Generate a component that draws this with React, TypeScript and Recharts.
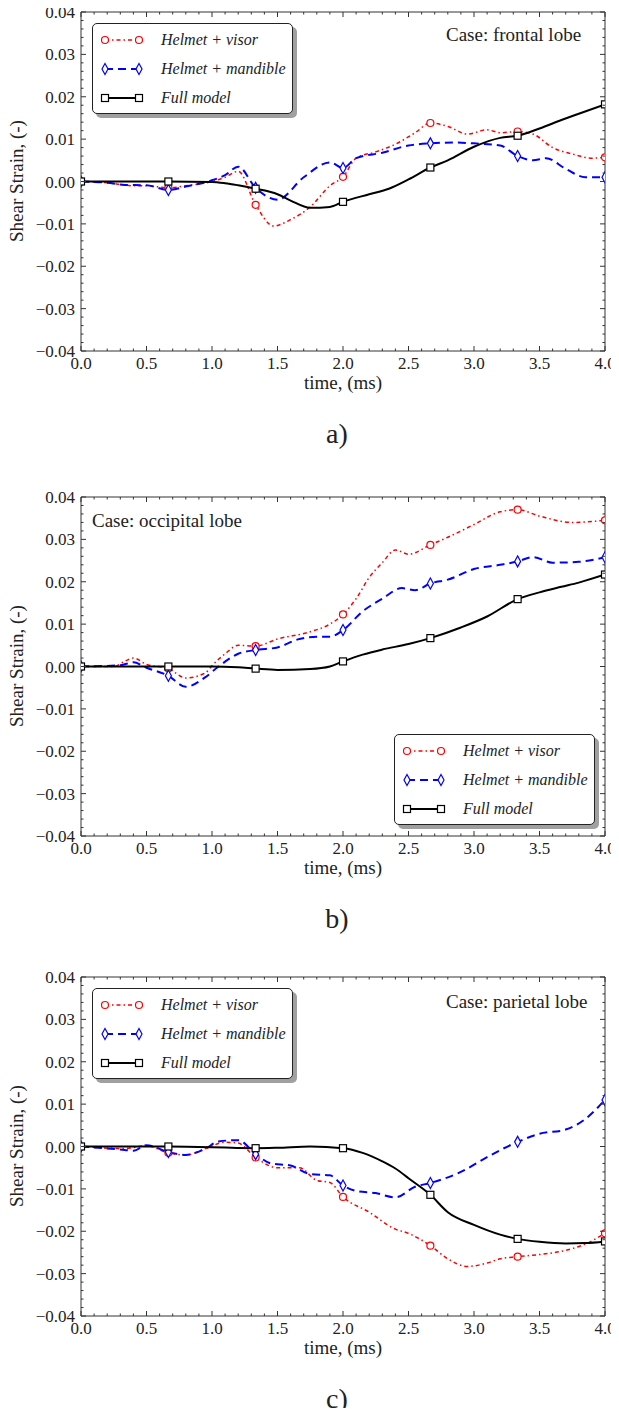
import React from "react";
import { LineChart, Line, XAxis, YAxis, Legend } from "recharts";

// time axis (ms) and tick values
const X_MAJOR = [0, 0.5, 1, 1.5, 2, 2.5, 3, 3.5, 4];
const X_TICKS = Array.from({ length: 41 }, (_, i) => i / 10);
const Y_MAJOR = [-0.04, -0.03, -0.02, -0.01, 0, 0.01, 0.02, 0.03, 0.04];
const Y_TICKS = Array.from({ length: 41 }, (_, i) => (i - 20) / 500);

// a) frontal lobe
const FRONTAL_VISOR_T = [0, 0.2, 0.4, 0.5, 0.667, 0.8, 1.0, 1.1, 1.2, 1.333, 1.47, 1.6, 1.75, 1.9, 2.0, 2.1, 2.25, 2.4, 2.55, 2.667, 2.8, 2.95, 3.1, 3.2, 3.333, 3.45, 3.6, 3.75, 3.9, 4.0];
const FRONTAL_VISOR = [0, -0.0003, -0.001, -0.001, -0.0015, -0.001, 0, 0.001, 0.0024, -0.0055, -0.0105, -0.009, -0.006, -0.001, 0.0011, 0.0055, 0.007, 0.0088, 0.0115, 0.0138, 0.013, 0.0112, 0.0122, 0.0115, 0.0118, 0.0112, 0.008, 0.0065, 0.0055, 0.0057];
const FRONTAL_MAND_T = [0, 0.2, 0.333, 0.5, 0.667, 0.8, 1.0, 1.1, 1.2, 1.333, 1.5, 1.7, 1.9, 2.0, 2.1, 2.3, 2.5, 2.667, 2.85, 3.0, 3.2, 3.333, 3.45, 3.55, 3.7, 3.85, 4.0];
const FRONTAL_MAND = [0, -0.0003, -0.0008, -0.0009, -0.002, -0.0012, 0.0003, 0.0015, 0.0035, -0.0015, -0.0043, 0.001, 0.0045, 0.0032, 0.0055, 0.0068, 0.0085, 0.009, 0.0092, 0.009, 0.0085, 0.006, 0.005, 0.0055, 0.003, 0.001, 0.001];
const FRONTAL_FULL_T = [0, 0.333, 0.667, 1.0, 1.1, 1.2, 1.333, 1.5, 1.6, 1.75, 1.9, 2.0, 2.2, 2.35, 2.5, 2.667, 2.8, 3.0, 3.2, 3.333, 3.5, 3.667, 3.8, 4.0];
const FRONTAL_FULL = [0, 0, 0, -0.0001, -0.0004, -0.0009, -0.0017, -0.003, -0.0045, -0.0062, -0.006, -0.0048, -0.003, -0.0017, 0.0005, 0.0033, 0.005, 0.0082, 0.0103, 0.0108, 0.0125, 0.0145, 0.016, 0.0182];

// b) occipital lobe
const OCC_VISOR_T = [0, 0.25, 0.333, 0.4, 0.5, 0.667, 0.8, 0.95, 1.0, 1.1, 1.2, 1.333, 1.5, 1.75, 1.9, 2.0, 2.1, 2.2, 2.3, 2.4, 2.5, 2.667, 2.8, 3.0, 3.2, 3.333, 3.5, 3.75, 4.0];
const OCC_VISOR = [0, 0, 0.0012, 0.002, 0.0005, -0.0005, -0.0027, -0.0015, 0.0002, 0.003, 0.005, 0.0048, 0.0065, 0.0082, 0.01, 0.0123, 0.016, 0.021, 0.0245, 0.0275, 0.0265, 0.0287, 0.0305, 0.0335, 0.0365, 0.037, 0.0355, 0.034, 0.0345];
const OCC_MAND_T = [0, 0.3, 0.4, 0.5, 0.667, 0.8, 0.95, 1.05, 1.2, 1.333, 1.5, 1.667, 1.8, 1.9, 2.0, 2.15, 2.3, 2.45, 2.55, 2.667, 2.8, 3.0, 3.2, 3.333, 3.45, 3.6, 3.8, 4.0];
const OCC_MAND = [0, 0.0003, 0.001, -0.0003, -0.0022, -0.0048, -0.0025, 0, 0.003, 0.0039, 0.0045, 0.0065, 0.007, 0.007, 0.0086, 0.013, 0.016, 0.0185, 0.018, 0.0196, 0.0205, 0.023, 0.024, 0.0248, 0.0258, 0.0245, 0.0247, 0.0258];
const OCC_FULL_T = [0, 0.333, 0.667, 1.0, 1.2, 1.333, 1.5, 1.75, 1.9, 2.0, 2.15, 2.3, 2.5, 2.667, 2.9, 3.1, 3.333, 3.5, 3.667, 3.8, 4.0];
const OCC_FULL = [0, 0, 0, 0, -0.0002, -0.0005, -0.0008, -0.0006, 0, 0.0012, 0.0028, 0.004, 0.0053, 0.0067, 0.0092, 0.0118, 0.0159, 0.0175, 0.0188, 0.0198, 0.0217];

// c) parietal lobe
const PAR_VISOR_T = [0, 0.333, 0.5, 0.667, 0.8, 0.95, 1.1, 1.2, 1.333, 1.5, 1.667, 1.8, 1.9, 2.0, 2.2, 2.4, 2.5, 2.667, 2.8, 2.95, 3.1, 3.2, 3.333, 3.5, 3.7, 3.85, 4.0];
const PAR_VISOR = [0, -0.0005, 0.0002, -0.0015, -0.002, -0.0005, 0.001, 0.0008, -0.0026, -0.005, -0.005, -0.008, -0.0085, -0.0119, -0.0155, -0.0195, -0.0205, -0.0234, -0.0265, -0.0283, -0.0275, -0.0265, -0.026, -0.0255, -0.0245, -0.023, -0.0205];
const PAR_MAND_T = [0, 0.333, 0.4, 0.5, 0.667, 0.8, 0.95, 1.05, 1.2, 1.333, 1.45, 1.6, 1.75, 1.9, 2.0, 2.1, 2.25, 2.4, 2.55, 2.667, 2.9, 3.1, 3.333, 3.5, 3.7, 3.85, 4.0];
const PAR_MAND = [0, -0.0008, -0.001, 0.0003, -0.0013, -0.002, -0.0005, 0.0012, 0.0015, -0.0018, -0.004, -0.0045, -0.0065, -0.0068, -0.0092, -0.0105, -0.011, -0.012, -0.0095, -0.0086, -0.006, -0.0025, 0.0011, 0.003, 0.004, 0.0065, 0.011];
const PAR_FULL_T = [0, 0.667, 1.333, 1.5, 1.75, 2.0, 2.15, 2.3, 2.4, 2.5, 2.667, 2.8, 3.0, 3.2, 3.333, 3.5, 3.7, 3.85, 4.0];
const PAR_FULL = [0, 0, -0.0004, -0.0003, 0, -0.0004, -0.0015, -0.0035, -0.0052, -0.0075, -0.0114, -0.0155, -0.0185, -0.0208, -0.0218, -0.0225, -0.0229, -0.0228, -0.0224];

const SERIES_NAMES = ["Helmet + visor", "Helmet + mandible", "Full model"];

const FONT = "'Liberation Serif', 'Times New Roman', serif";
const AXIS = "#333";
const RED = "#ff0000";
const BLUE = "#0000ff";

const rows = (t: number[], v: number[]) => t.map((x, i) => ({ t: x, v: v[i] }));
const isStep = (v: number, step: number) => Math.abs(v / step - Math.round(v / step)) < 1e-6;
const isMarker = (t: number) => Math.abs(t * 1.5 - Math.round(t * 1.5)) < 0.01;

const fmtY = (v: number) => (Math.abs(v) < 1e-9 ? "0.00" : v.toFixed(2).replace("-", "\u2212"));

function Circle({ cx, cy }: { cx: number; cy: number }) {
  return <circle cx={cx} cy={cy} r={3.5} fill="#fff" stroke={RED} strokeWidth={1.2} />;
}
function Diamond({ cx, cy }: { cx: number; cy: number }) {
  return (
    <path
      d={`M${cx},${cy - 5.5} L${cx + 3},${cy} L${cx},${cy + 5.5} L${cx - 3},${cy} Z`}
      fill="#fff"
      stroke={BLUE}
      strokeWidth={1.2}
    />
  );
}
function Square({ cx, cy }: { cx: number; cy: number }) {
  return <rect x={cx - 3.5} y={cy - 3.5} width={7} height={7} fill="#fff" stroke="#000" strokeWidth={1.2} />;
}

const MARKERS = [Circle, Diamond, Square];

const dotFor = (k: number) => (props: any) => {
  const { cx, cy, payload, index } = props;
  if (!isMarker(payload.t)) return <g key={index} />;
  const M = MARKERS[k];
  return (
    <g key={index}>
      <M cx={cx} cy={cy} />
    </g>
  );
};

function BottomTick(props: any) {
  const { x, y, payload } = props;
  const major = isStep(payload.value, 0.5);
  return (
    <g>
      <line x1={x} x2={x} y1={y} y2={y - (major ? 5 : 2.5)} stroke={AXIS} />
      {major && (
        <text x={x} y={y + 18} textAnchor="middle" fontSize={17} fill="#222" fontFamily={FONT}>
          {payload.value.toFixed(1)}
        </text>
      )}
    </g>
  );
}
function TopTick(props: any) {
  const { x, y, payload } = props;
  const major = isStep(payload.value, 0.5);
  return <line x1={x} x2={x} y1={y} y2={y + (major ? 5 : 2.5)} stroke={AXIS} />;
}
function LeftTick(props: any) {
  const { x, y, payload } = props;
  const major = isStep(payload.value, 0.01);
  return (
    <g>
      <line x1={x} x2={x + (major ? 5 : 2.5)} y1={y} y2={y} stroke={AXIS} />
      {major && (
        <text x={x - 6} y={y + 6} textAnchor="end" fontSize={17} fill="#222" fontFamily={FONT}>
          {fmtY(payload.value)}
        </text>
      )}
    </g>
  );
}
function RightTick(props: any) {
  const { x, y, payload } = props;
  const major = isStep(payload.value, 0.01);
  return <line x1={x} x2={x - (major ? 5 : 2.5)} y1={y} y2={y} stroke={AXIS} />;
}

function LegendBox() {
  const strokes = [
    { color: RED, dash: "4 3 1.5 3", width: 1.5 },
    { color: BLUE, dash: "8 5", width: 2 },
    { color: "#000", dash: undefined, width: 2 },
  ];
  return (
    <div
      style={{
        width: 199,
        height: 89,
        border: "1.5px solid #222",
        borderRadius: 5,
        background: "#fff",
        boxShadow: "4px 4px 0 #a0a0a0",
        position: "relative",
        fontFamily: FONT,
      }}
    >
      {SERIES_NAMES.map((name, i) => {
        const M = MARKERS[i];
        const s = strokes[i];
        return (
          <div
            key={name}
            style={{ position: "absolute", left: 6, top: 6 + i * 29, height: 20, display: "flex", alignItems: "center" }}
          >
            <svg width={46} height={20}>
              <line x1={6} x2={40} y1={10} y2={10} stroke={s.color} strokeWidth={s.width} strokeDasharray={s.dash} />
              <M cx={6} cy={10} />
              <M cx={40} cy={10} />
            </svg>
            <span style={{ marginLeft: 16, fontStyle: "italic", fontSize: 16, color: "#222", whiteSpace: "nowrap" }}>
              {name}
            </span>
          </div>
        );
      })}
    </div>
  );
}

type PanelProps = {
  top: number;
  caption: string;
  caseText: string;
  caseLeft: number;
  caseTop: number;
  legendLeft: number;
  legendTop: number;
  visor: { t: number; v: number }[];
  mand: { t: number; v: number }[];
  full: { t: number; v: number }[];
};

function Panel(p: PanelProps) {
  const text: React.CSSProperties = { position: "absolute", fontFamily: FONT, color: "#222", whiteSpace: "nowrap" };
  return (
    <div style={{ position: "absolute", left: 0, top: p.top, width: 619, height: 450 }}>
      <LineChart width={619} height={450} margin={{ top: 11, right: 13, bottom: 98, left: 80 }}>
        <XAxis
          dataKey="t"
          type="number"
          domain={[0, 4]}
          allowDataOverflow
          ticks={X_TICKS}
          interval={0}
          height={1}
          tickSize={0}
          tickMargin={0}
          tickLine={false}
          axisLine={{ stroke: AXIS }}
          tick={(t: any) => <BottomTick {...t} />}
        />
        <XAxis
          xAxisId="top"
          orientation="top"
          dataKey="t"
          type="number"
          domain={[0, 4]}
          allowDataOverflow
          ticks={X_TICKS}
          interval={0}
          height={1}
          tickSize={0}
          tickMargin={0}
          tickLine={false}
          axisLine={{ stroke: AXIS }}
          tick={(t: any) => <TopTick {...t} />}
        />
        <YAxis
          type="number"
          domain={[-0.04, 0.04]}
          allowDataOverflow
          ticks={Y_TICKS}
          interval={0}
          width={1}
          tickSize={0}
          tickMargin={0}
          tickLine={false}
          axisLine={{ stroke: AXIS }}
          tick={(t: any) => <LeftTick {...t} />}
        />
        <YAxis
          yAxisId="right"
          orientation="right"
          type="number"
          domain={[-0.04, 0.04]}
          allowDataOverflow
          ticks={Y_TICKS}
          interval={0}
          width={1}
          tickSize={0}
          tickMargin={0}
          tickLine={false}
          axisLine={{ stroke: AXIS }}
          tick={(t: any) => <RightTick {...t} />}
        />
        <Legend
          layout="vertical"
          align="center"
          verticalAlign="middle"
          content={() => <LegendBox />}
          wrapperStyle={{ left: p.legendLeft, top: p.legendTop, width: 202, height: 92 }}
        />
        <Line
          data={p.visor}
          dataKey="v"
          name={SERIES_NAMES[0]}
          type="monotone"
          stroke={RED}
          strokeWidth={1.5}
          strokeDasharray="4 3 1.5 3"
          dot={dotFor(0)}
          activeDot={false}
          isAnimationActive={false}
        />
        <Line
          data={p.mand}
          dataKey="v"
          name={SERIES_NAMES[1]}
          type="monotone"
          stroke={BLUE}
          strokeWidth={2}
          strokeDasharray="8 5"
          dot={dotFor(1)}
          activeDot={false}
          isAnimationActive={false}
        />
        <Line
          data={p.full}
          dataKey="v"
          name={SERIES_NAMES[2]}
          type="monotone"
          stroke="#000"
          strokeWidth={2}
          dot={dotFor(2)}
          activeDot={false}
          isAnimationActive={false}
        />
      </LineChart>
      <div style={{ ...text, left: p.caseLeft, top: p.caseTop - 11, fontSize: 19 }}>{p.caseText}</div>
      <div
        style={{
          ...text,
          left: 17,
          top: 181,
          fontSize: 19,
          transform: "translate(-50%, -50%) rotate(-90deg)",
        }}
      >
        Shear Strain, (-)
      </div>
      <div style={{ ...text, left: 343, top: 383, fontSize: 19, transform: "translate(-50%, -50%)" }}>time, (ms)</div>
      <div style={{ ...text, left: 337, top: 434, fontSize: 28, transform: "translate(-50%, -50%)" }}>{p.caption}</div>
    </div>
  );
}

export default function App() {
  return (
    <div style={{ position: "relative", margin: -8, width: 619, height: 1416, background: "#fff", overflow: "hidden" }}>
      <Panel
        top={0}
        caption="a)"
        caseText="Case: frontal lobe"
        caseLeft={446}
        caseTop={35}
        legendLeft={92}
        legendTop={23}
        visor={rows(FRONTAL_VISOR_T, FRONTAL_VISOR)}
        mand={rows(FRONTAL_MAND_T, FRONTAL_MAND)}
        full={rows(FRONTAL_FULL_T, FRONTAL_FULL)}
      />
      <Panel
        top={485}
        caption="b)"
        caseText="Case: occipital lobe"
        caseLeft={92}
        caseTop={36}
        legendLeft={394}
        legendTop={249}
        visor={rows(OCC_VISOR_T, OCC_VISOR)}
        mand={rows(OCC_MAND_T, OCC_MAND)}
        full={rows(OCC_FULL_T, OCC_FULL)}
      />
      <Panel
        top={965}
        caption="c)"
        caseText="Case: parietal lobe"
        caseLeft={446}
        caseTop={37}
        legendLeft={92}
        legendTop={23}
        visor={rows(PAR_VISOR_T, PAR_VISOR)}
        mand={rows(PAR_MAND_T, PAR_MAND)}
        full={rows(PAR_FULL_T, PAR_FULL)}
      />
    </div>
  );
}
